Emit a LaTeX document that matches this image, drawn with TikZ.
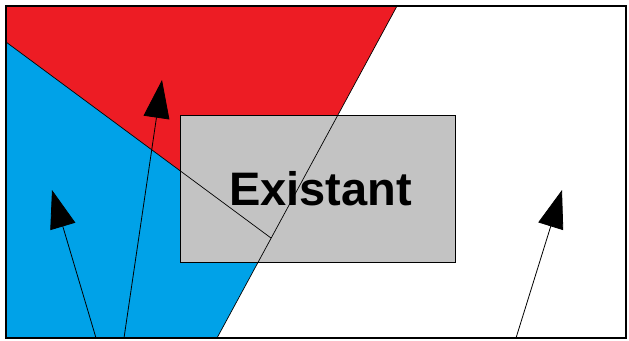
\documentclass[tikz,border=0pt]{standalone}
\usepackage{fontspec}
\setmainfont{Liberation Sans}
\usetikzlibrary{arrows.meta}
\definecolor{zonered}{RGB}{237,28,36}
\definecolor{zoneblue}{RGB}{0,162,232}
\definecolor{boxgray}{RGB}{195,195,195}
\tikzset{
  frame/.style={draw, line width=1.4pt},
  zone edge/.style={line width=0.7pt},
  pointer/.style={-{Triangle[length=38pt,width=26pt]}, line width=0.8pt},
  existant box/.style={draw, line width=1pt, fill=boxgray, inner sep=0pt,
    minimum width=275pt, minimum height=147pt,
    font=\bfseries\fontsize{47}{47}\selectfont},
}

\begin{document}
\begin{tikzpicture}[x=1pt, y=-1pt]
  \useasboundingbox (0,0) rectangle (629,340);

  % corners of the zones
  \coordinate (top left) at (6,6);
  \coordinate (top cut) at (397,6);
  \coordinate (left cut) at (6,42);
  \coordinate (meet) at (271,238);
  \coordinate (bottom cut) at (217,338);
  \coordinate (bottom left) at (6,338);

  % zones
  \fill[zonered] (top left) -- (top cut) -- (meet) -- (left cut) -- cycle;
  \fill[zoneblue] (left cut) -- (meet) -- (bottom cut) -- (bottom left) -- cycle;

  \node[existant box] (existant) at (317.5,188.5) {\hspace{6pt}Existant};

  % zone borders over the box
  \draw[zone edge] (left cut) -- (meet);
  \draw[zone edge] (top cut) -- (bottom cut);
  \draw[frame] (top left) rectangle (626,338);

  % pointers
  \coordinate (foot a) at (96,338);
  \coordinate (head a) at (52,190);
  \coordinate (foot b) at (124,338);
  \coordinate (head b) at (162,80);
  \coordinate (foot c) at (516,338);
  \coordinate (head c) at (562,190);
  \draw[pointer] (foot a) -- (head a);
  \draw[pointer] (foot b) -- (head b);
  \draw[pointer] (foot c) -- (head c);
\end{tikzpicture}
\end{document}
